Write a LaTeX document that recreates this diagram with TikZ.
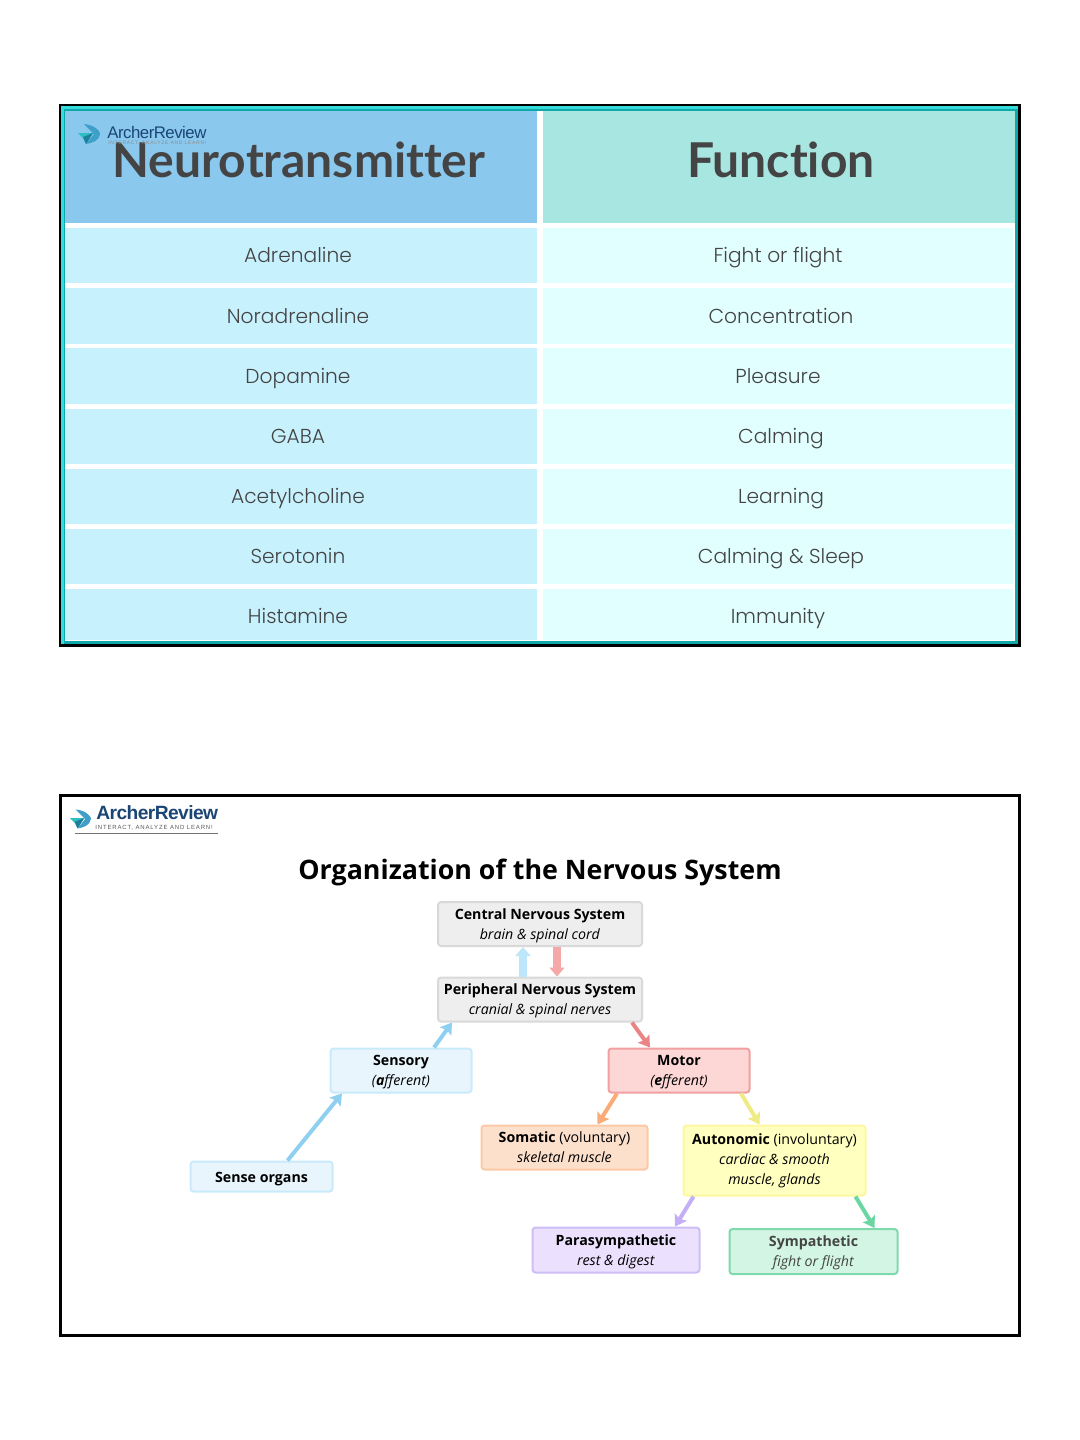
\documentclass[tikz,border=0pt]{standalone}
\usepackage{fontspec}
\setmainfont{Open Sans}
\newfontfamily\headfont[Ligatures=NoCommon]{Lato}
\newfontfamily\cellfont{Poppins Light}
\newfontfamily\logofont[LetterSpace=-3]{Liberation Sans}
\newfontfamily\tagfont[LetterSpace=14]{Liberation Sans}
\usetikzlibrary{arrows.meta,positioning}
\definecolor{inkgrey}{HTML}{444444}
\definecolor{logoblue}{HTML}{1B4674}
\definecolor{tealedge}{HTML}{0EA9A8}
\definecolor{cyanedge}{HTML}{35DCDC}
\definecolor{headleft}{HTML}{8AC8EE}
\definecolor{headright}{HTML}{A8E6E1}
\definecolor{namefill}{HTML}{C8F1FE}
\definecolor{funcfill}{HTML}{E2FFFF}
\definecolor{birdb}{HTML}{3E9FC9}
\definecolor{birdt}{HTML}{2CBFC4}
\definecolor{birdd}{HTML}{1F7F9A}
\definecolor{cnsfill}{HTML}{EEEEEE}
\definecolor{cnsline}{HTML}{D9D9D9}
\definecolor{sensefill}{HTML}{E8F5FD}
\definecolor{senseline}{HTML}{C8EAFA}
\definecolor{motorfill}{HTML}{FDD6D6}
\definecolor{motorline}{HTML}{F0A0A0}
\definecolor{somafill}{HTML}{FDE0CC}
\definecolor{somaline}{HTML}{FBC9A6}
\definecolor{autofill}{HTML}{FFFFC0}
\definecolor{autoline}{HTML}{FDF8A0}
\definecolor{parafill}{HTML}{EBE0FD}
\definecolor{paraline}{HTML}{CDBFF5}
\definecolor{sympfill}{HTML}{D3F5E4}
\definecolor{sympline}{HTML}{7ED9AC}
\definecolor{upblue}{HTML}{BDE6FB}
\definecolor{downred}{HTML}{F4A8A8}
\definecolor{sensearrow}{HTML}{8FCFF0}
\definecolor{motorarrow}{HTML}{EA8585}
\definecolor{somaarrow}{HTML}{FBAB77}
\definecolor{autoarrow}{HTML}{F0EA84}
\definecolor{paraarrow}{HTML}{C4AEF7}
\definecolor{symparrow}{HTML}{6BD6A2}
\begin{document}
\begin{tikzpicture}[x=0.5pt, y=-0.5pt,
  frame/.style={draw=black, line width=1.5pt, inner sep=0pt},
  head/.style={inner sep=0pt, minimum height=56.5pt},
  headtext/.style={inner sep=0pt, font=\fontsize{24}{28}\selectfont\headfont\bfseries, text=inkgrey},
  cell/.style={inner sep=0pt, font=\fontsize{10.1}{13}\selectfont\cellfont, text=inkgrey, text height=8.5pt, text depth=1.5pt},
  namecell/.style={cell, fill=namefill, minimum width=236pt},
  funccell/.style={cell, fill=funcfill, minimum width=235pt},
  nudge/.style={execute at begin node=\hspace*{#1}},
  box/.style={rounded corners=1.5pt, line width=1pt, inner sep=0pt, align=center, font=\fontsize{7.1}{10}\selectfont, text height=17pt, text depth=2pt},
  arr/.style={-{Stealth[length=5.5pt, width=7pt, inset=1pt]}, line width=#1},
  fatarr/.style={-{Triangle[length=4.5pt, width=7.5pt]}, line width=4pt},
  birdmark/.pic={
    \fill[birdb] (6,-9) .. controls (18,-8) and (23,0) .. (22,1) .. controls (21,8) and (14,10) .. (8,11) -- (16,1) -- cycle;
    \fill[birdt] (0,0) -- (15,0) -- (8,11) -- (5,5) -- cycle;
    \fill[birdd] (15,0) -- (8,11) -- (5,4) -- cycle;
  }]
  \useasboundingbox (0,0) rectangle (1080,1440);
  % table
  \node[frame, fill=white, minimum width=479.5pt, minimum height=270pt] (tableframe) at (540,375.5) {};
  \node[head, fill=headleft, minimum width=236pt] (headname) at (301,166) {};
  \node[head, fill=headright, minimum width=236pt] (headfunc) at (779,166) {};
  \node[headtext] (headnametext) at (299,160) {Neurotransmitter};
  \node[headtext] (headfunctext) at (781,160) {Function};
  \node[namecell, minimum height=27.5pt, nudge=-3pt] (adrenaline) at (301,255.5) {Adrenaline};
  \node[namecell, minimum height=28pt, nudge=-3pt] (noradrenaline) at (301,316) {Noradrenaline};
  \node[namecell, minimum height=28pt, nudge=-3pt] (dopamine) at (301,376) {Dopamine};
  \node[namecell, minimum height=27.5pt, nudge=-3pt] (gaba) at (301,436.5) {GABA};
  \node[namecell, minimum height=27.5pt, nudge=-3pt] (acetylcholine) at (301,496.5) {Acetylcholine};
  \node[namecell, minimum height=27.5pt, nudge=-3pt] (serotonin) at (301,556.5) {Serotonin};
  \node[namecell, minimum height=25.5pt, nudge=-3pt, text height=9.5pt, text depth=0.5pt] (histamine) at (301,614.5) {Histamine};
  \node[funccell, minimum height=27.5pt] (fight) at (778,255.5) {Fight or flight};
  \node[funccell, minimum height=28pt, nudge=3pt] (concentration) at (778,316) {Concentration};
  \node[funccell, minimum height=28pt] (pleasure) at (778,376) {Pleasure};
  \node[funccell, minimum height=27.5pt, nudge=3pt] (calming) at (778,436.5) {Calming};
  \node[funccell, minimum height=27.5pt, nudge=3pt] (learning) at (778,496.5) {Learning};
  \node[funccell, minimum height=27.5pt, nudge=3pt] (sleep) at (778,556.5) {Calming \& Sleep};
  \node[funccell, minimum height=25.5pt, text height=9.5pt, text depth=0.5pt] (immunity) at (778,614.5) {Immunity};
  \node[draw=tealedge, line width=1.5pt, inner sep=0pt, minimum width=476.5pt, minimum height=266.5pt] (tableedge) at (540,375.5) {};
  \draw[cyanedge, line width=1.5pt] (tableedge.south west) -- (tableedge.north west) -- (tableedge.north east);
  % first logo
  \pic at (78,133) {birdmark};
  \node[inner sep=0pt, anchor=west, text=logoblue, font=\fontsize{8.4}{9}\selectfont\logofont] (logotop) at (107,132) {ArcherReview};
  \node[inner sep=0pt, anchor=west, text=black!45, font=\fontsize{2.5}{3}\selectfont\tagfont] (tagtop) at (108,143) {INTERACT, ANALYZE AND LEARN!};
  % nervous system
  \node[frame, minimum width=479.5pt, minimum height=270pt] (chartframe) at (540,1065.5) {};
  \pic[scale=0.95] at (70,818) {birdmark};
  \node[inner sep=0pt, anchor=west, text=logoblue, font=\fontsize{9.6}{11}\selectfont\logofont\bfseries] (logolow) at (96,813) {ArcherReview};
  \node[inner sep=0pt, anchor=west, text=black!65, font=\fontsize{3}{4}\selectfont\tagfont] (taglow) at (95,827.5) {INTERACT, ANALYZE AND LEARN!};
  \coordinate (ruleleft) at (75,833);
  \coordinate (ruleright) at (218,833);
  \draw[black!55, line width=0.5pt] (ruleleft) -- (ruleright);
  \node[inner sep=0pt, font=\fontsize{13.4}{16}\selectfont\bfseries] (charttitle) at (540,872) {Organization of the Nervous System};
  \node[box, fill=cnsfill, draw=cnsline, minimum width=102pt, minimum height=22pt] (cns) at (540,924) {\textbf{Central Nervous System}\\\textit{brain \& spinal cord}};
  \node[box, fill=cnsfill, draw=cnsline, minimum width=102pt, minimum height=22pt] (pns) at (540,999.5) {\textbf{Peripheral Nervous System}\\\textit{cranial \& spinal nerves}};
  \node[box, fill=sensefill, draw=senseline, minimum width=70.5pt, minimum height=22pt] (sensory) at (401,1070.5) {\textbf{Sensory}\\\textit{(\textbf{a}fferent)}};
  \node[box, fill=motorfill, draw=motorline, minimum width=70.5pt, minimum height=22pt] (motor) at (679,1070.5) {\textbf{Motor}\\\textit{(\textbf{e}fferent)}};
  \node[box, fill=sensefill, draw=senseline, minimum width=71pt, minimum height=15pt, text height=7.5pt] (organs) at (261.5,1176.5) {\textbf{Sense organs}};
  \node[box, fill=somafill, draw=somaline, minimum width=83pt, minimum height=22pt] (somatic) at (564.5,1147.5) {\textbf{Somatic} (voluntary)\\\textit{skeletal muscle}};
  \node[box, fill=autofill, draw=autoline, minimum width=91pt, minimum height=35pt, text height=25.5pt] (autonomic) at (774.5,1160.5) {\textbf{Autonomic} (involuntary)\\\textit{cardiac \& smooth}\\\textit{muscle, glands}};
  \node[box, fill=parafill, draw=paraline, minimum width=83.5pt, minimum height=22.5pt] (para) at (616,1250) {\textbf{Parasympathetic}\\\textit{rest \& digest}};
  \node[box, fill=sympfill, draw=sympline, text=inkgrey, minimum width=84pt, minimum height=22.5pt] (symp) at (813.5,1251.5) {\textbf{Sympathetic}\\\textit{fight or flight}};
  \draw[fatarr, draw=upblue] ([shift={(-17,0)}]pns.north) -- ([shift={(-17,0)}]cns.south);
  \draw[fatarr, draw=downred] ([shift={(17,0)}]cns.south) -- ([shift={(17,0)}]pns.north);
  \draw[arr=2pt, draw=sensearrow] ([shift={(33,0)}]sensory.north) -- ([shift={(-88,0)}]pns.south);
  \draw[arr=2pt, draw=sensearrow] ([shift={(26,0)}]organs.north) -- ([shift={(-59,0)}]sensory.south);
  \draw[arr=2pt, draw=motorarrow] ([shift={(92,0)}]pns.south) -- ([shift={(-29,0)}]motor.north);
  \draw[arr=2pt, draw=somaarrow] ([shift={(-62,0)}]motor.south) -- ([shift={(33,0)}]somatic.north);
  \draw[arr=2pt, draw=autoarrow] ([shift={(62,0)}]motor.south) -- ([shift={(-15,0)}]autonomic.north);
  \draw[arr=2pt, draw=paraarrow] ([shift={(-81,0)}]autonomic.south) -- ([shift={(59,0)}]para.north);
  \draw[arr=2pt, draw=symparrow] ([shift={(81,0)}]autonomic.south) -- ([shift={(61,0)}]symp.north);
\end{tikzpicture}
\end{document}
